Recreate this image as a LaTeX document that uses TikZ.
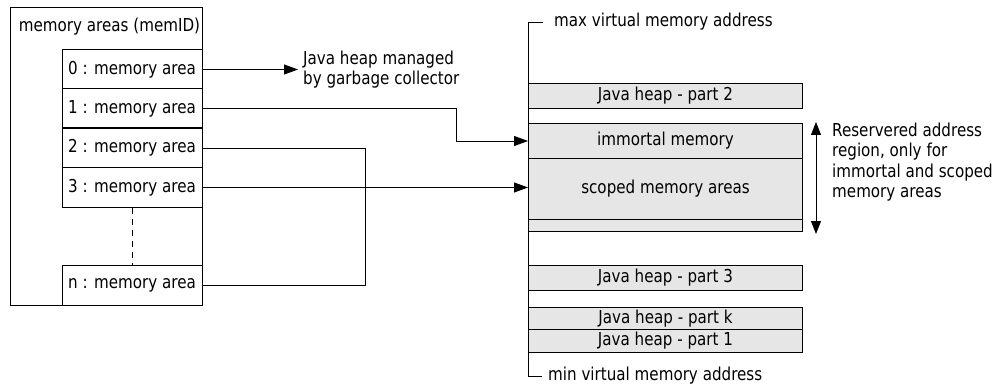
\documentclass[tikz,border=0pt]{standalone}
\usepackage{fontspec}
\setmainfont{DejaVu Sans}[FakeStretch=0.85]
\usetikzlibrary{arrows.meta,calc}

\definecolor{heapgray}{HTML}{E6E6E6}

\tikzset{
  lbl/.style={font=\fontsize{17.8}{20.5}\selectfont, inner sep=0pt},
  areabox/.style={draw, line width=1pt, minimum width=140pt, minimum height=39pt,
                  inner sep=0pt, font=\fontsize{17.8}{20.5}\selectfont},
  heapbox/.style={draw, line width=1pt, fill=heapgray, minimum width=274pt,
                  inner sep=0pt, font=\fontsize{17.8}{20.5}\selectfont},
  conn/.style={line width=0.9pt},
  arr/.style={conn, -{Triangle[length=14pt,width=10pt]}},
  darr/.style={line width=0.9pt, {Triangle[length=13pt,width=10pt]}-{Triangle[length=13pt,width=10pt]}}
}

\begin{document}
\begin{tikzpicture}[x=1pt, y=-1pt]
\useasboundingbox (0,0) rectangle (999,385);

% table of memory areas indexed by memID
\node[draw, line width=1pt, minimum width=192pt, minimum height=297pt, inner sep=0pt]
  (areas) at (106,156.5) {};
\node[lbl] (title) at (109.5,27) {memory areas (memID)};
\node[areabox] (m0) at (132,69.5)  {0 : memory area};
\node[areabox] (m1) at (132,108.5) {1 : memory area};
\node[areabox] (m2) at (132,148)   {2 : memory area};
\node[areabox] (m3) at (132,187.5) {3 : memory area};
\node[areabox, minimum height=40pt] (mn) at (132,285) {n : memory area};
\draw[line width=0.9pt, dashed, dash pattern=on 6pt off 5pt] (m3.south) -- (mn.north);

% virtual address space
\coordinate (top) at (528,23);
\coordinate (bot) at (528,376);
\draw[line width=1pt] ($(top)+(15,0)$) -- (top) -- (bot) -- ($(bot)+(14,0)$);
\node[lbl, anchor=west] (maxl) at (554,22) {max virtual memory address};
\node[lbl, anchor=west] (minl) at (548,375.5) {min virtual memory address};

\node[heapbox, minimum height=25pt, anchor=north west] (h2) at (528,83) {Java heap - part 2};
\node[heapbox, minimum height=35pt, anchor=north west] (imm) at (528,123) {immortal memory};
\node[heapbox, minimum height=61pt, anchor=north west] (scoped) at (528,158) {scoped memory areas};
\node[heapbox, minimum height=12pt, anchor=north west] (resv) at (528,219) {};
\node[heapbox, minimum height=25pt, anchor=north west] (h3) at (528,265) {Java heap - part 3};
\node[heapbox, minimum height=22pt, anchor=north west] (hk) at (528,307) {Java heap - part k};
\node[heapbox, minimum height=23pt, anchor=north west] (h1) at (528,329) {Java heap - part 1};

% reserved region marker
\draw[darr] ($(imm.north east)+(13,-1)$) -- ($(resv.south east)+(13,2)$);
\node[lbl, anchor=west, align=left] (resnote) at (832,162)
  {Reservered address\\region, only for\\immortal and scoped\\memory areas};

% garbage collected heap
\node[lbl, anchor=west, align=left] (jh) at (303,69.5)
  {Java heap managed\\by garbage collector};
\draw[arr] (m0.east) -- ([xshift=-5pt]jh.west);

% connectors from the memory area table into the address space
\draw[arr] (m1.east) -- ++(254,0) |- (imm.west);
\coordinate (bus) at (365,148);
\draw[conn] (m2.east) -- (bus) |- (mn.east);
\draw[arr] (m3.east) -- (m3.east -| scoped.west);
\end{tikzpicture}
\end{document}
